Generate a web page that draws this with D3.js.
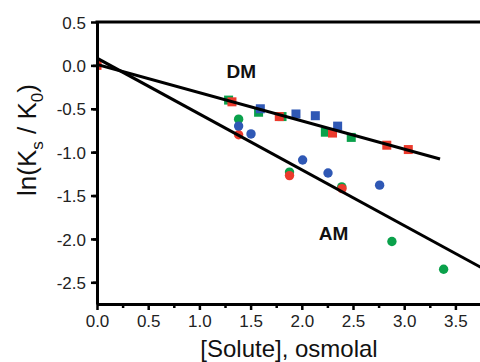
<!DOCTYPE html>
<html>
<head>
<meta charset="utf-8">
<script src="https://cdn.jsdelivr.net/npm/d3@7"></script>
<style>
  html, body { margin: 0; padding: 0; background: #fff; }
  svg { display: block; font-family: "Liberation Sans", Arial, sans-serif; }
</style>
</head>
<body>
<svg id="chart" width="480" height="362"></svg>
<script>
// x ticks / y ticks
const xTicks = [0, 0.5, 1.0, 1.5, 2.0, 2.5, 3.0, 3.5];
const yTicks = [0.5, 0.0, -0.5, -1.0, -1.5, -2.0, -2.5];

// DM (squares), [osmolal, ln(Ks/K0)]
const dmGreen = [[1.285, -0.40], [1.578, -0.54], [1.807, -0.59], [2.23, -0.77], [2.483, -0.83]];
const dmRed = [[0, 0], [1.318, -0.42], [1.78, -0.59], [2.30, -0.78], [2.83, -0.92], [3.04, -0.97]];
const dmBlue = [[1.595, -0.50], [1.943, -0.56], [2.132, -0.58], [2.35, -0.70]];

// AM (circles)
const amGreen = [[1.383, -0.62], [1.88, -1.23], [2.39, -1.40], [2.88, -2.03], [3.385, -2.35]];
const amRed = [[0, 0], [1.383, -0.80], [1.88, -1.27], [2.393, -1.42]];
const amBlue = [[1.383, -0.70], [1.504, -0.79], [2.008, -1.09], [2.256, -1.24], [2.76, -1.38]];

// linear fits
const fitNames = ['DM', 'AM'];
const fitIntercepts = [0.01, 0.083];
const fitSlopes = [-0.325, -0.643];
const fitXEnd = [3.35, 3.9];

const colors = { green: '#0aa14b', red: '#ec3a2c', blue: '#2f58b5' };

const svg = d3.select('#chart');
const mLeft = 97, mTop = 22, mRight = 481, mBottom = 304;

const x = d3.scaleLinear().domain([0, 3.75]).range([mLeft, mRight]);
const y = d3.scaleLinear().domain([-2.75, 0.5]).range([mBottom, mTop]);

svg.append('defs').append('clipPath').attr('id', 'plot')
  .append('rect').attr('x', mLeft).attr('y', mTop)
  .attr('width', mRight - mLeft).attr('height', mBottom - mTop);

const plot = svg.append('g').attr('clip-path', 'url(#plot)');

// markers: green first, then red, blue on top
const sq = 9;
function squares(data, c) {
  plot.selectAll(null).data(data).enter().append('rect')
    .attr('x', d => x(d[0]) - sq / 2)
    .attr('y', d => y(d[1]) - sq / 2)
    .attr('width', sq).attr('height', sq)
    .attr('fill', c);
}
function circles(data, c) {
  plot.selectAll(null).data(data).enter().append('circle')
    .attr('cx', d => x(d[0]))
    .attr('cy', d => y(d[1]))
    .attr('r', 4.7)
    .attr('fill', c);
}
squares(dmGreen, colors.green);
circles(amGreen, colors.green);
squares(dmRed, colors.red);
circles(amRed, colors.red);
squares(dmBlue, colors.blue);
circles(amBlue, colors.blue);

// fit lines
fitNames.forEach((name, i) => {
  const pts = [0, fitXEnd[i]].map(v => [v, fitIntercepts[i] + fitSlopes[i] * v]);
  plot.append('path')
    .attr('d', d3.line().x(d => x(d[0])).y(d => y(d[1]))(pts))
    .attr('fill', 'none')
    .attr('stroke', '#000')
    .attr('stroke-width', 3);
});

// axes
const xMinor = d3.range(0.25, 3.75, 0.5);
const yMinor = d3.range(-2.75, 0.5, 0.5).map(v => v + 0.25).filter(v => v < 0.5);

const xAxis = svg.append('g').attr('transform', `translate(0,${mBottom})`)
  .call(d3.axisBottom(x).tickValues(xTicks).tickFormat(d3.format('.1f')).tickSize(6).tickSizeOuter(0));
svg.append('g').attr('transform', `translate(0,${mBottom})`)
  .call(d3.axisBottom(x).tickValues(xMinor).tickFormat('').tickSize(4).tickSizeOuter(0))
  .select('.domain').remove();

const yAxis = svg.append('g').attr('transform', `translate(${mLeft},0)`)
  .call(d3.axisLeft(y).tickValues(yTicks).tickFormat(d3.format('.1f')).tickSize(6).tickSizeOuter(0));
svg.append('g').attr('transform', `translate(${mLeft},0)`)
  .call(d3.axisLeft(y).tickValues(yMinor).tickFormat('').tickSize(4).tickSizeOuter(0))
  .select('.domain').remove();

svg.selectAll('.domain').attr('stroke', '#000').attr('stroke-width', 3);
svg.selectAll('.tick line').attr('stroke', '#000').attr('stroke-width', 2.5);
svg.selectAll('.tick text').attr('fill', '#222').style('font-size', '17px')
  .style('font-family', '"Liberation Sans", Arial, sans-serif');
xAxis.selectAll('.tick text').attr('dy', '0.82em');
yAxis.selectAll('.tick text').attr('x', -11).attr('dy', '0.36em')
  .text(d => d3.format('.1f')(d).replace('−', '-'));

// top frame line
svg.append('line')
  .attr('x1', mLeft - 1.5).attr('x2', 480)
  .attr('y1', mTop).attr('y2', mTop)
  .attr('stroke', '#000').attr('stroke-width', 3);

// series labels
svg.append('text').attr('x', x(1.41)).attr('y', y(-0.145))
  .attr('text-anchor', 'middle').attr('font-weight', 'bold').attr('font-size', 19)
  .attr('fill', '#111').text('DM');
svg.append('text').attr('x', x(2.31)).attr('y', y(-2.01))
  .attr('text-anchor', 'middle').attr('font-weight', 'bold').attr('font-size', 19)
  .attr('fill', '#111').text('AM');

// axis titles
svg.append('text').attr('x', 289).attr('y', 357)
  .attr('text-anchor', 'middle').attr('font-size', 24).attr('fill', '#111')
  .text('[Solute], osmolal');

const yt = svg.append('text')
  .attr('transform', 'translate(36,140) rotate(-90)')
  .attr('text-anchor', 'middle').attr('font-size', 26).attr('fill', '#111');
yt.append('tspan').text('ln(K');
yt.append('tspan').attr('font-size', 17).attr('dy', 7).text('s');
yt.append('tspan').attr('dy', -7).text(' / K');
yt.append('tspan').attr('font-size', 17).attr('dy', 7).text('0');
yt.append('tspan').attr('dy', -7).text(')');
</script>
</body>
</html>
